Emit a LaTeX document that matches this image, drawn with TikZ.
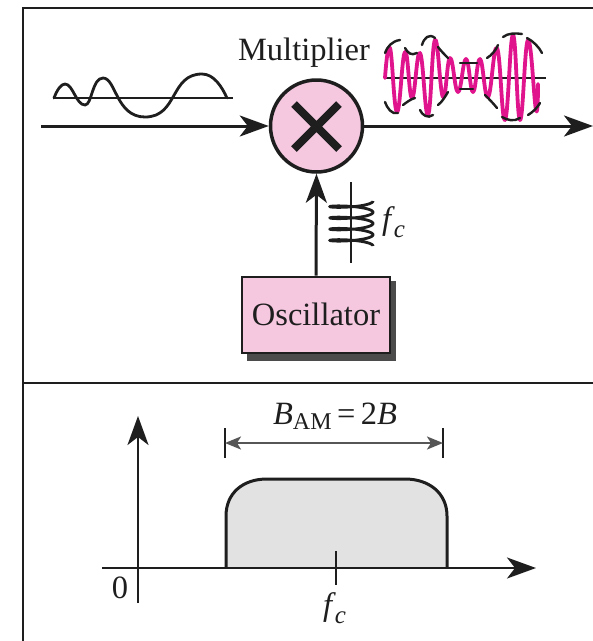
\documentclass[tikz,border=0pt]{standalone}
\usepackage{fontspec}
\setmainfont{Liberation Serif}
\usetikzlibrary{arrows.meta}
\definecolor{pinkfill}{RGB}{245,200,224}
\definecolor{magentaw}{RGB}{224,20,140}
\definecolor{ink}{RGB}{30,30,30}
\definecolor{graybody}{RGB}{226,226,226}
\tikzset{
  x=1pt,y=-1pt,
  wire/.style={draw=ink,line width=3pt},
  flow/.style={wire,-{Stealth[length=29pt,width=21pt,inset=8pt]}},
  thin wave/.style={draw=ink,line width=2.8pt,line cap=round},
  axisline/.style={draw=ink,line width=2.2pt},
  envelope/.style={draw=ink,line width=2.4pt,line cap=round},
  lbl/.style={text=ink,font=\fontsize{32.5}{36}\selectfont,inner sep=0pt},
}
\newcommand{\fcsym}{\textit{f}\kern-1pt\raisebox{-8pt}{\fontsize{25}{26}\selectfont\itshape c}}
\begin{document}
\begin{tikzpicture}
\useasboundingbox (0,0) rectangle (593,641);
\fill[white] (0,0) rectangle (593,641);
% frame
\draw[draw=ink,line width=2.6pt] (593,8) -- (23,8) -- (23,641);
\draw[draw=ink,line width=2.6pt] (23,383) -- (593,383);
% message wave
\draw[axisline] (53,98) -- (233,98);
\draw[thin wave] (54,98) .. controls (57,90) and (61,84) .. (65,84)
  .. controls (73,84) and (76,105) .. (85,105)
  .. controls (92,105) and (92,78) .. (103,78)
  .. controls (116,78) and (116,117) .. (145,117)
  .. controls (178,117) and (170,74) .. (202,74)
  .. controls (214,74) and (222,87) .. (227,98);
\coordinate (inL) at (41,126);
\coordinate (outR) at (593,126);
% multiplier
\node[circle,draw=ink,line width=3.5pt,fill=pinkfill,minimum size=92pt,inner sep=0pt] (mult) at (316.5,126) {};
\draw[line width=8pt,draw=ink] (294,104) -- (339,149) (339,104) -- (294,149);
\draw[flow] (inL) -- (mult.west);
\draw[flow] (mult.east) -- (outR);
\node[lbl,anchor=base] (mlabel) at (304,60) {Multiplier};
% AM wave
\draw[axisline] (385,78) -- (546,78);
\draw[magentaw,line width=3.8pt,line cap=round,line join=round]
  plot[smooth,tension=0.75] coordinates {(385,78) (390,48) (397,112) (405,52) (412,98) (420,53) (428,115) (435,40) (443,97) (450,58) (458,92) (466,59) (473,92) (480,59) (488,97) (497,48) (505,120) (513,35) (520,120) (528,40) (536,110) (538,84)};
\draw[envelope] (385,53) .. controls (387,47) and (392,41) .. (400,40);
\draw[envelope] (405,48) .. controls (408,53) and (411,56) .. (417,53);
\draw[envelope] (422,45) .. controls (424,38) and (429,33) .. (435,38);
\draw[envelope] (438,47) .. controls (441,51) and (445,55) .. (448,58);
\draw[envelope] (460,63) -- (477,63);
\draw[envelope] (487,58) .. controls (492,55) and (496,50) .. (498,45);
\draw[envelope] (503,37) .. controls (508,33) and (516,33) .. (522,34);
\draw[envelope] (527,38) .. controls (533,41) and (539,47) .. (542,53);
\draw[envelope] (385,102) .. controls (387,108) and (392,115) .. (398,113);
\draw[envelope] (403,105) .. controls (407,102) and (411,99) .. (415,98);
\draw[envelope] (420,110) .. controls (422,115) and (428,119) .. (433,115);
\draw[envelope] (438,105) .. controls (442,102) and (445,97) .. (448,92);
\draw[envelope] (460,89) -- (473,89);
\draw[envelope] (485,95) .. controls (489,99) and (493,103) .. (497,108);
\draw[envelope] (502,117) .. controls (507,120) and (514,122) .. (520,118);
\draw[envelope] (528,115) .. controls (533,112) and (537,108) .. (540,103);
% oscillator
\fill[ink!80] (247,281) rectangle (396,361);
\node[rectangle,draw=ink,line width=2.6pt,fill=pinkfill,minimum width=148pt,minimum height=76pt,inner sep=0pt] (osc) at (316,315) {};
\node[lbl,anchor=base] (osclabel) at (316,325) {Oscillator};
\draw[flow] (osc.north) -- (mult.south);
% carrier
\draw[axisline] (351,182) -- (351,263);
\draw[draw=ink,line width=2.8pt] plot[domain=0:1440,samples=240,smooth] ({351.5+21.5*cos(\x)},{201+\x/1440*45+3*sin(\x)});
\node[lbl,anchor=base west] (fc) at (382,229) {\fcsym};
% spectrum
\coordinate (yaxB) at (138,603);
\coordinate (yaxT) at (138,416);
\coordinate (xaxL) at (102,568);
\coordinate (xaxR) at (536,568);
\draw[draw=ink,fill=graybody,line width=3pt] (226,568) -- (226,516) .. controls (226,493) and (243,479) .. (267,479)
  -- (405,479) .. controls (429,479) and (447,493) .. (447,516) -- (447,568);
\draw[flow,line width=2.2pt] (yaxB) -- (yaxT);
\draw[flow,line width=2.2pt] (xaxL) -- (xaxR);
\draw[axisline] (336,551) -- (336,585);
\coordinate (bwL) at (225,443);
\coordinate (bwR) at (443,443);
\draw[draw=ink,line width=1.8pt] (bwL) ++(0,-15) -- ++(0,30);
\draw[draw=ink,line width=1.8pt] (bwR) ++(0,-15) -- ++(0,30);
\draw[draw=ink!75,line width=2.2pt,{Stealth[length=16pt,width=13pt,inset=4pt]}-{Stealth[length=16pt,width=13pt,inset=4pt]}] (bwL) -- (bwR);
\node[lbl,anchor=base] (bw) at (335,424) {\textit{B}\raisebox{-5pt}{\fontsize{24}{26}\selectfont AM}\,=\,2\textit{B}};
\node[lbl,anchor=base] (zero) at (120,598) {0};
\node[lbl,anchor=base west] (fc2) at (323,615) {\fcsym};
\end{tikzpicture}
\end{document}
